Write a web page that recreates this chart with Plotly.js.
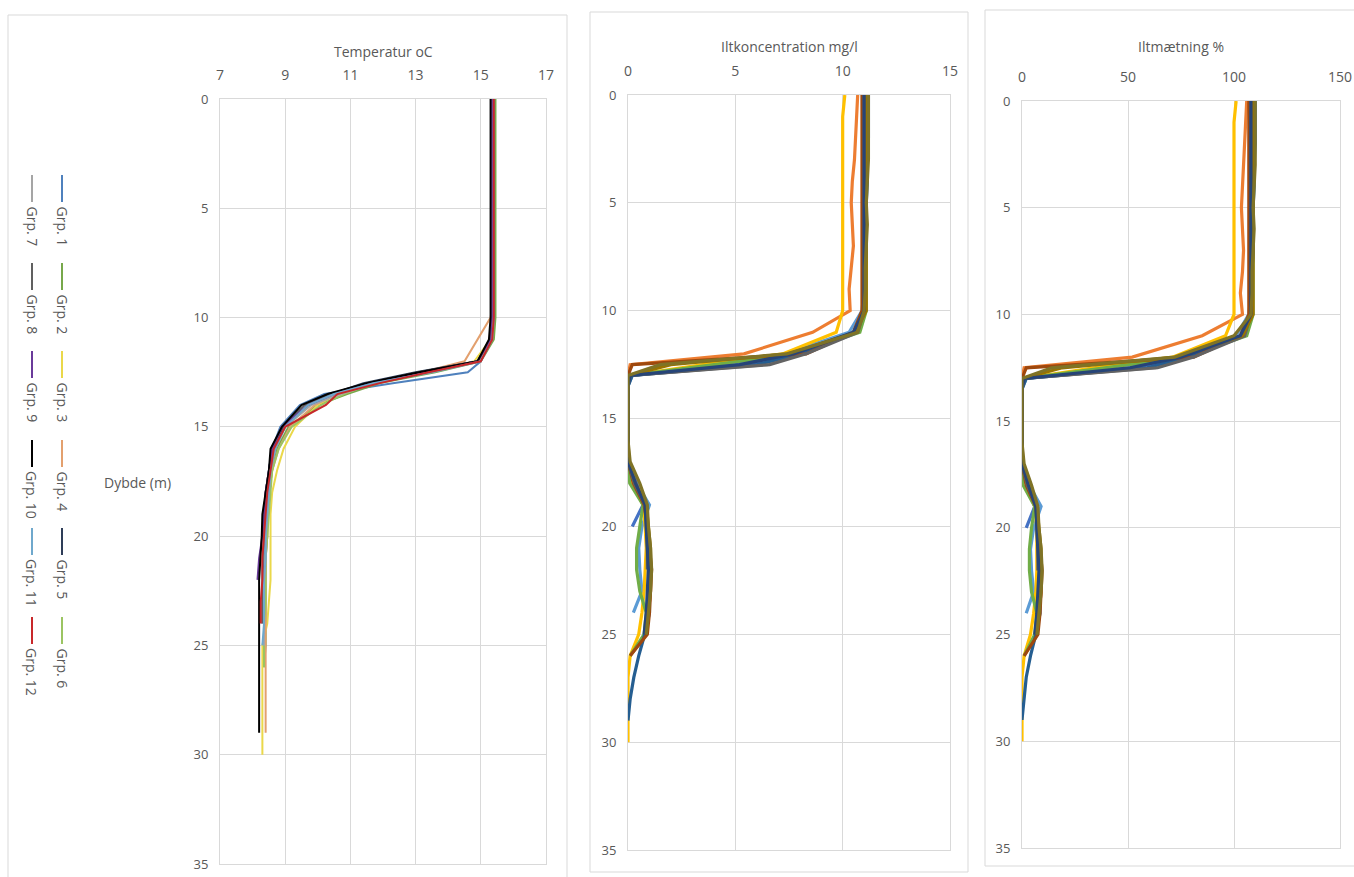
<!DOCTYPE html>
<html><head><meta charset="utf-8">
<script src="https://cdn.plot.ly/plotly-3.0.1.min.js"></script>
<style>html,body{margin:0;padding:0;background:#fff}#chart{width:1354px;height:877px}</style>
</head><body><div id="chart"></div>
<script>
// ---------- DATA ----------
const depthGrid = [0,1,2,3,4,5,6,7,8,9,10,11,12,12.5,13,13.5,14,15,16,17,18,19,20,21,22,23,24,25,26,27,28,29,30];
const groupNames = ['Grp. 1','Grp. 2','Grp. 3','Grp. 4','Grp. 5','Grp. 6','Grp. 7','Grp. 8','Grp. 9','Grp. 10','Grp. 11','Grp. 12'];
const tempColors = ['#4F81BD','#77A84B','#EAD84A','#E3A06E','#2E3D58','#9BC462','#A5A5A5','#606060','#6A3A9A','#000000','#6FA8CC','#C8282A'];
const oxyColors  = ['#5B9BD5','#ED7D31','#A5A5A5','#FFC000','#4472C4','#70AD47','#255E91','#9E480E','#636363','#997300','#264478','#7F7326'];

// Temperature (°C) per group, following depthGrid
const tempGrp1  = [15.4,15.4,15.4,15.4,15.4,15.4,15.4,15.4,15.4,15.4,15.35,15.3,15.0,14.6,12.3,10.2,9.45,8.85,8.6,8.5,8.45,8.4,8.4,8.35,8.35,8.3,8.3];
const tempGrp2  = [15.45,15.45,15.45,15.45,15.45,15.45,15.45,15.45,15.45,15.45,15.45,15.4,15.0,13.6,11.9,10.9,10.0,9.1,8.75,8.6,8.5,8.45,8.45,8.4,8.4,8.4,8.4,8.4,8.35];
const tempGrp3  = [15.35,15.35,15.35,15.35,15.35,15.35,15.35,15.35,15.35,15.35,15.35,15.3,14.8,13.4,11.6,10.6,10.0,9.3,8.95,8.75,8.6,8.55,8.55,8.55,8.55,8.5,8.45,8.3,8.3,8.3,8.3,8.3,8.3];
const tempGrp4  = [15.4,15.4,15.4,15.4,15.4,15.4,15.4,15.4,15.4,15.4,15.3,14.9,14.5,13.2,11.5,10.6,9.9,9.15,8.8,8.6,8.5,8.45,8.45,8.4,8.4,8.4,8.4,8.4,8.4,8.4,8.4,8.4];
const tempGrp5  = [15.35,15.35,15.35,15.35,15.35,15.35,15.35,15.35,15.35,15.35,15.35,15.3,14.9,13.0,11.4,10.4,9.7,8.95,8.6,8.5,8.4,8.35,8.3];
const tempGrp6  = [15.4,15.4,15.4,15.4,15.4,15.4,15.4,15.4,15.4,15.4,15.4,15.35,14.9,13.3,11.7,10.8,10.1,9.2,8.8,8.6,8.55,8.5,8.45,8.4,8.4,8.4,8.35,8.35,8.35];
const tempGrp7  = [15.35,15.35,15.35,15.35,15.35,15.35,15.35,15.35,15.35,15.35,15.35,15.3,14.9,13.3,11.8,10.7,9.8,9.0,8.7,8.55,8.5,8.45,8.4,8.4,8.35,8.35,8.35,8.35];
const tempGrp8  = [15.4,15.4,15.4,15.4,15.4,15.4,15.4,15.4,15.4,15.4,15.4,15.3,14.9,13.1,11.6,10.4,9.6,8.9,8.6,8.5,8.4,8.35,8.35,8.3,8.3,8.3,8.3];
const tempGrp9  = [15.35,15.35,15.35,15.35,15.35,15.35,15.35,15.35,15.35,15.35,15.35,15.3,14.9,13.2,11.6,10.5,9.7,8.9,8.6,8.5,8.4,8.35,8.3,8.2,8.15];
const tempGrp10 = [15.3,15.3,15.3,15.3,15.3,15.3,15.3,15.3,15.3,15.3,15.3,15.25,14.9,13.1,11.5,10.3,9.5,8.9,8.55,8.5,8.4,8.3,8.28,8.25,8.2,8.2,8.2,8.2,8.2,8.2,8.2,8.2];
const tempGrp11 = [15.4,15.4,15.4,15.4,15.4,15.4,15.4,15.4,15.4,15.4,15.4,15.35,15.0,13.5,11.7,10.5,9.7,9.0,8.7,8.55,8.5,8.45,8.4,8.4,8.35,8.35,8.35,8.3];
const tempGrp12 = [15.4,15.4,15.4,15.4,15.4,15.4,15.4,15.4,15.4,15.4,15.4,15.35,15.0,13.4,11.9,10.6,10.25,9.0,8.65,8.55,8.45,8.4,8.35,8.3,8.3,8.25,8.25];

// Oxygen concentration (mg/l) per group, following depthGrid
const concGrp1  = [11.1,11.1,11.1,11.05,11.05,11.0,11.0,11.0,11.0,11.0,10.9,10.3,7.3,5.0,0.2,0,0,0,0,0,0.4,1.0,0.65,0.5,0.55,0.65,0.25];
const concGrp2  = [10.7,10.65,10.6,10.55,10.45,10.4,10.45,10.5,10.4,10.3,10.35,8.6,5.4,0.1,0,0,0,0,0,0.05,0.3,0.8,0.9,1.0,1.05,1.05,0.95,0.85,0.1];
const concGrp3  = [11.0,11.0,11.0,11.0,11.0,11.0,11.0,11.0,11.0,11.0,11.0,10.5,8.0,6.5,0.1,0,0,0,0,0,0.3,0.8,0.85,0.9,0.95,0.95,0.9,0.8];
const concGrp4  = [10.1,10.0,10.0,10.0,10.0,10.0,10.0,10.0,10.0,10.0,10.0,9.7,7.2,3.5,0.1,0,0,0,0,0,0.2,0.7,0.8,0.85,0.8,0.75,0.65,0.5,0.1,0,0,0,0];
const concGrp5  = [11.0,11.0,11.0,11.0,11.0,11.0,11.0,11.0,11.0,11.0,11.0,10.6,7.6,5.5,0.1,0,0,0,0,0,0.4,0.7,0.2];
const concGrp6  = [11.1,11.1,11.1,11.1,11.1,11.1,11.1,11.1,11.1,11.1,11.1,10.8,7.8,4.0,0.1,0,0,0,0,0,0.08,0.7,0.55,0.4,0.4,0.55,0.85,0.75,0.1];
const concGrp7  = [11.2,11.2,11.2,11.15,11.15,11.1,11.1,11.1,11.05,11.05,11.0,10.6,8.0,6.0,0.2,0,0,0,0,0,0.3,0.85,0.9,0.95,1.0,1.0,1.0,0.78,0.5,0.27,0.1,0];
const concGrp8  = [10.9,10.9,10.9,10.9,10.9,10.9,10.9,10.9,10.9,10.9,10.9,10.5,8.3,0.2,0,0,0,0,0,0,0.25,0.75,0.9,1.0,1.1,1.05,1.0,0.9,0.1];
const concGrp9  = [11.0,11.0,11.0,11.0,11.0,11.0,11.0,11.0,11.0,11.0,11.0,10.7,8.3,6.6,0.1,0,0,0,0,0,0.3,0.8,0.85,0.9,0.9];
const concGrp10 = [11.1,11.1,11.1,11.1,11.1,11.1,11.1,11.1,11.1,11.1,11.1,10.6,7.5,2.0,0.05,0,0,0,0,0,0.35,0.85,0.95,1.05,1.05,1.0,0.95,0.85];
const concGrp11 = [11.0,11.0,11.0,11.0,11.0,11.0,11.0,11.0,11.0,11.0,11.0,10.5,7.7,5.2,0.1,0,0,0,0,0,0.35,0.8,0.85,0.9,0.95,0.9,0.85,0.75];
const concGrp12 = [11.2,11.2,11.2,11.2,11.15,11.1,11.15,11.1,11.05,11.05,11.0,10.7,7.4,1.5,0,0,0,0,0,0.1,0.55,0.9,0.95,1.05,1.1,1.05,0.95,0.85];

// Oxygen saturation (%) per group, following depthGrid
const satGrp1  = [109,109,109,108.5,108.5,108,108,108,108,108,107,101,72,50,2,0,0,0,0,0,3.5,9,5.5,4,4.5,5.5,2];
const satGrp2  = [106,105.5,105,104.5,104,103.5,104,104.5,104,103,104,85,52,1,0,0,0,0,0,0.5,2.5,7,7.5,8.5,9,9,8,7,1];
const satGrp3  = [108,108,108,108,108,108,108,108,108,108,108,103,78,63,1,0,0,0,0,0,2.5,7,7.5,7.5,8,8,7.5,7];
const satGrp4  = [101,100,100,100,100,100,100,100,100,100,100,96,71,34,1,0,0,0,0,0,2,6,7,7,7,6.5,5.5,4,1,0,0,0,0];
const satGrp5  = [108,108,108,108,108,108,108,108,108,108,108,104,74,54,1,0,0,0,0,0,3.5,6,2];
const satGrp6  = [109,109,109,109,109,109,109,109,109,109,109,106,77,39,1,0,0,0,0,0,0.5,6,4.5,3.5,3.5,4.5,7,6,1];
const satGrp7  = [110,110,110,109.5,109.5,109,109,109,108.5,108.5,108,104,78,59,2,0,0,0,0,0,2.5,7,7.5,8,8.5,8.5,8.5,6.5,4,2,1,0];
const satGrp8  = [107,107,107,107,107,107,107,107,107,107,107,103,81,2,0,0,0,0,0,0,2,6.5,7.5,8.5,9.5,9,8.5,7.5,1];
const satGrp9  = [108,108,108,108,108,108,108,108,108,108,108,105,81,64,1,0,0,0,0,0,2.5,7,7,7.5,7.5];
const satGrp10 = [109,109,109,109,109,109,109,109,109,109,109,104,73,19,0.5,0,0,0,0,0,3,7,8,9,9,8.5,8,7];
const satGrp11 = [108,108,108,108,108,108,108,108,108,108,108,103,75,51,1,0,0,0,0,0,3,6.5,7,7.5,8,7.5,7,6];
const satGrp12 = [110,110,110,110,109.5,109,109.5,109,108.5,108.5,108,100,72,14,0,0,0,0,0,1,4.5,7.5,8,9,9.5,9,8,7];

const tempSeries = [tempGrp1,tempGrp2,tempGrp3,tempGrp4,tempGrp5,tempGrp6,tempGrp7,tempGrp8,tempGrp9,tempGrp10,tempGrp11,tempGrp12];
const concSeries = [concGrp1,concGrp2,concGrp3,concGrp4,concGrp5,concGrp6,concGrp7,concGrp8,concGrp9,concGrp10,concGrp11,concGrp12];
const satSeries  = [satGrp1,satGrp2,satGrp3,satGrp4,satGrp5,satGrp6,satGrp7,satGrp8,satGrp9,satGrp10,satGrp11,satGrp12];

// ---------- LAYOUT HELPERS ----------
const W = 1354, H = 877;
const px = x => x / W;
const py = y => 1 - y / H;
const txtCol = '#595959';
const gridCol = '#d9d9d9';
const FONT = 'Open Sans, Noto Sans, sans-serif';

const traces = [];
groupNames.forEach((name, i) => {
  traces.push({x: tempSeries[i], y: depthGrid.slice(0, tempSeries[i].length), name, type: 'scatter', mode: 'lines',
    line: {color: tempColors[i], width: 2}, xaxis: 'x', yaxis: 'y', hoverinfo: 'x+y+name'});
});
groupNames.forEach((name, i) => {
  traces.push({x: concSeries[i], y: depthGrid.slice(0, concSeries[i].length), name, type: 'scatter', mode: 'lines',
    line: {color: oxyColors[i], width: 3.2}, xaxis: 'x2', yaxis: 'y2', hoverinfo: 'x+y+name'});
});
groupNames.forEach((name, i) => {
  traces.push({x: satSeries[i], y: depthGrid.slice(0, satSeries[i].length), name, type: 'scatter', mode: 'lines',
    line: {color: oxyColors[i], width: 3.2}, xaxis: 'x3', yaxis: 'y3', hoverinfo: 'x+y+name'});
});

function xAx(dom, range, tick0, dtick, anchor) {
  return {domain: dom, range, tick0, dtick, anchor, side: 'top', showgrid: true, gridcolor: gridCol, gridwidth: 1,
    showline: true, linecolor: gridCol, mirror: true, zeroline: false, ticks: '', ticklabelstandoff: 12,
    tickfont: {family: FONT, size: 14, color: txtCol}, fixedrange: true};
}
function yAx(dom, anchor) {
  return {domain: dom, range: [35, 0], tick0: 0, dtick: 5, anchor, showgrid: true, gridcolor: gridCol, gridwidth: 1,
    showline: true, linecolor: gridCol, mirror: true, zeroline: false, ticks: '', ticklabelstandoff: 8,
    tickfont: {family: FONT, size: 13, color: txtCol}, fixedrange: true};
}

const shapes = [
  {type: 'rect', xref: 'paper', yref: 'paper', x0: px(8), x1: px(567), y0: py(880), y1: py(15), line: {color: gridCol, width: 1}},
  {type: 'rect', xref: 'paper', yref: 'paper', x0: px(590), x1: px(968), y0: py(872), y1: py(12), line: {color: gridCol, width: 1}},
  {type: 'rect', xref: 'paper', yref: 'paper', x0: px(985), x1: px(1360), y0: py(866), y1: py(10), line: {color: gridCol, width: 1}}
];

const annotations = [
  {text: 'Temperatur oC', x: px(383), y: py(52), xref: 'paper', yref: 'paper', showarrow: false, xanchor: 'center', yanchor: 'middle', font: {family: FONT, size: 14, color: txtCol}},
  {text: 'Iltkoncentration mg/l', x: px(789), y: py(47), xref: 'paper', yref: 'paper', showarrow: false, xanchor: 'center', yanchor: 'middle', font: {family: FONT, size: 14, color: txtCol}},
  {text: 'Iltmætning %', x: px(1181), y: py(47), xref: 'paper', yref: 'paper', showarrow: false, xanchor: 'center', yanchor: 'middle', font: {family: FONT, size: 14, color: txtCol}},
  {text: 'Dybde (m)', x: px(137), y: py(482), xref: 'paper', yref: 'paper', showarrow: false, xanchor: 'center', yanchor: 'middle', font: {family: FONT, size: 14, color: txtCol}}
];

// rotated legend (two columns)
const legTop = [175, 263, 351, 440, 528, 617];
groupNames.forEach((name, i) => {
  const col = i < 6 ? 0 : 1;
  const row = i % 6;
  const lx = col === 0 ? 62 : 32;
  const y0 = legTop[row], y1 = y0 + 27;
  shapes.push({type: 'line', xref: 'paper', yref: 'paper', x0: px(lx), x1: px(lx), y0: py(y0), y1: py(y1), line: {color: tempColors[i], width: 2}});
  const tlen = name.length > 6 ? 50 : 43;
  annotations.push({text: name, x: px(lx), y: py(y1 + 3 + tlen / 2), xref: 'paper', yref: 'paper', showarrow: false,
    textangle: 90, xanchor: 'center', yanchor: 'middle', font: {family: FONT, size: 14, color: txtCol}});
});

const layout = {
  width: W, height: H, margin: {l: 0, r: 0, t: 0, b: 0}, paper_bgcolor: '#fff', plot_bgcolor: '#fff',
  showlegend: false,
  xaxis: xAx([px(220), px(546)], [7, 17], 7, 2, 'y'),
  yaxis: yAx([py(864), py(99)], 'x'),
  xaxis2: xAx([px(628), px(950)], [0, 15], 0, 5, 'y2'),
  yaxis2: yAx([py(850), py(95)], 'x2'),
  xaxis3: xAx([px(1022), px(1340)], [0, 150], 0, 50, 'y3'),
  yaxis3: yAx([py(848), py(101)], 'x3'),
  shapes, annotations
};

Plotly.newPlot('chart', traces, layout, {displayModeBar: false});
</script></body></html>
